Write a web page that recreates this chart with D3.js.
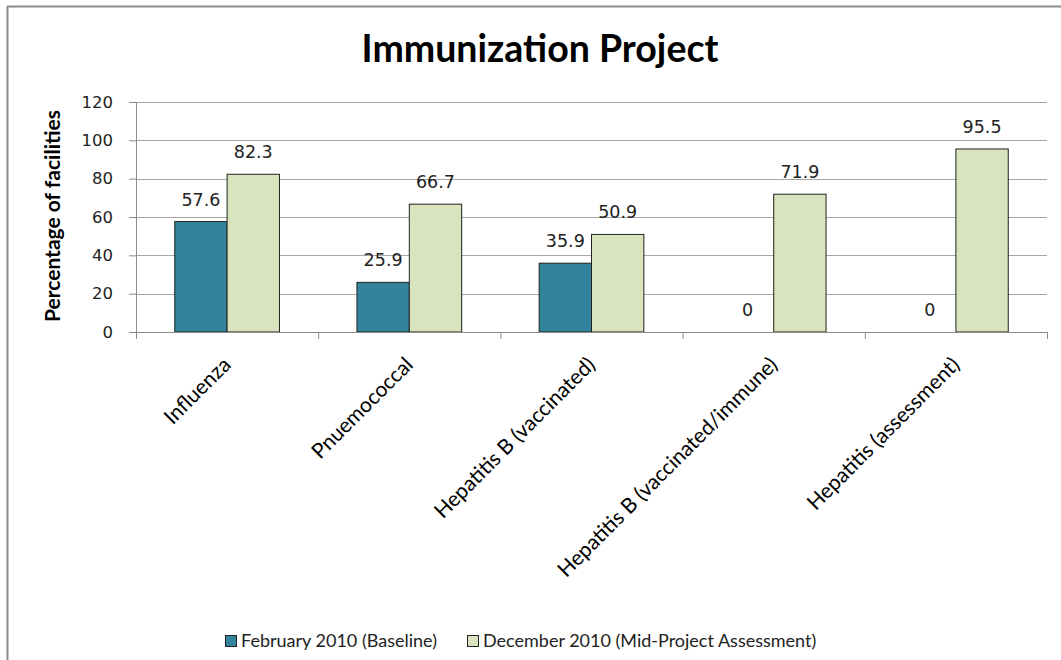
<!DOCTYPE html>
<html>
<head>
<meta charset="utf-8">
<script src="https://cdn.jsdelivr.net/npm/d3@7"></script>
<style>
  body { margin: 0; background: #fff; }
  svg text { font-family: Lato, "Open Sans", sans-serif; }
  svg text.num { font-family: "DejaVu Sans", sans-serif; }
</style>
</head>
<body>
<div id="chart"></div>
<script>
// data
const categories = ["Influenza", "Pnuemococcal", "Hepatitis B (vaccinated)", "Hepatitis B (vaccinated/immune)", "Hepatitis (assessment)"];
const seriesNames = ["February 2010 (Baseline)", "December 2010 (Mid-Project Assessment)"];
const baseline = [57.6, 25.9, 35.9, 0, 0];
const midProject = [82.3, 66.7, 50.9, 71.9, 95.5];
const yTicks = [0, 20, 40, 60, 80, 100, 120];
const colors = ["#31849b", "#d7e4bd"];

const width = 1061, height = 660;
const margin = {top: 102, right: 14, bottom: 328, left: 136};
const innerW = width - margin.left - margin.right;
const innerH = height - margin.top - margin.bottom;

const svg = d3.select("#chart").append("svg")
    .attr("width", width)
    .attr("height", height);

// outer frame (left and top edges visible)
svg.append("line").attr("x1", 7.5).attr("x2", 7.5).attr("y1", 6).attr("y2", height)
    .attr("stroke", "#8c8c8c").attr("stroke-width", 2);
svg.append("line").attr("x1", 7).attr("x2", width).attr("y1", 6.5).attr("y2", 6.5)
    .attr("stroke", "#8c8c8c").attr("stroke-width", 2);

// title
svg.append("text")
    .attr("x", 540).attr("y", 62)
    .attr("text-anchor", "middle")
    .attr("font-size", 37.5).attr("font-weight", "bold")
    .attr("fill", "#000")
    .text("Immunization Project");

const g = svg.append("g").attr("transform", `translate(${margin.left},${margin.top})`);

const x0 = d3.scaleBand().domain(categories).range([0, innerW]).paddingInner(0).paddingOuter(0);
const x1 = d3.scaleBand().domain([0, 1]).range([0, x0.bandwidth()]).paddingInner(0).paddingOuter(0.74);
const y = d3.scaleLinear().domain([0, 120]).range([innerH, 0]);

// gridlines
g.append("g").selectAll("line").data(yTicks.filter(d => d > 0)).join("line")
    .attr("x1", 0).attr("x2", innerW)
    .attr("y1", d => Math.round(y(d)) + 0.5).attr("y2", d => Math.round(y(d)) + 0.5)
    .attr("stroke", "#a6a6a6").attr("stroke-width", 1);

// y axis
const yAxis = g.append("g")
    .call(d3.axisLeft(y).tickValues(yTicks).tickSize(7).tickPadding(16));
yAxis.select(".domain").attr("stroke", "#8c8c8c");
yAxis.selectAll(".tick line").attr("stroke", "#8c8c8c");
yAxis.selectAll(".tick text").attr("class", "num").attr("font-size", 16.5).attr("fill", "#222");

// y axis title
svg.append("text")
    .attr("transform", `translate(60,${margin.top + innerH / 2 - 1}) rotate(-90)`)
    .attr("text-anchor", "middle")
    .attr("font-size", 21).attr("font-weight", "bold")
    .attr("fill", "#000")
    .text("Percentage of facilities");

// bars
const rows = categories.map((c, i) => ({cat: c, vals: [baseline[i], midProject[i]]}));
const groups = g.selectAll(".grp").data(rows).join("g")
    .attr("class", "grp")
    .attr("transform", d => `translate(${x0(d.cat)},0)`);

groups.selectAll("rect").data(d => d.vals.map((v, k) => ({k, v}))).join("rect")
    .filter(d => d.v > 0)
    .attr("x", d => x1(d.k))
    .attr("width", x1.bandwidth())
    .attr("y", d => y(d.v))
    .attr("height", d => y(0) - y(d.v))
    .attr("fill", d => colors[d.k])
    .attr("stroke", "#222").attr("stroke-width", 1);

groups.selectAll(".num").data(d => d.vals.map((v, k) => ({k, v}))).join("text")
    .attr("class", "num")
    .attr("x", d => x1(d.k) + x1.bandwidth() / 2)
    .attr("y", d => y(d.v) - 16)
    .attr("text-anchor", "middle")
    .attr("font-size", 17.5).attr("fill", "#222")
    .text(d => d.v);

// x axis
const xAxis = g.append("g").attr("transform", `translate(0,${innerH})`);
xAxis.append("line").attr("x1", 0).attr("x2", innerW).attr("y1", 0.5).attr("y2", 0.5).attr("stroke", "#8c8c8c");
xAxis.selectAll(".xt").data(d3.range(categories.length + 1)).join("line")
    .attr("class", "xt")
    .attr("x1", i => i * x0.bandwidth() + 0.5).attr("x2", i => i * x0.bandwidth() + 0.5)
    .attr("y1", 0).attr("y2", 7).attr("stroke", "#8c8c8c");
xAxis.selectAll(".xl").data(categories).join("text")
    .attr("class", "xl")
    .attr("transform", d => `translate(${x0(d) + x0.bandwidth() / 2 + 5},${34}) rotate(-45)`)
    .attr("text-anchor", "end")
    .attr("font-size", 21).attr("fill", "#000")
    .text(d => d);

// legend
const legend = svg.append("g").attr("transform", "translate(225,641)");
const legendX = [0, 242];
seriesNames.forEach((name, i) => {
  const item = legend.append("g").attr("transform", `translate(${legendX[i]},0)`);
  item.append("rect").attr("x", 0.5).attr("y", -5.5).attr("width", 11).attr("height", 11)
      .attr("fill", colors[i]).attr("stroke", "#222");
  item.append("text").attr("x", 16).attr("y", 6)
      .attr("font-size", 18).attr("fill", "#222")
      .text(name);
});
</script>
</body>
</html>
